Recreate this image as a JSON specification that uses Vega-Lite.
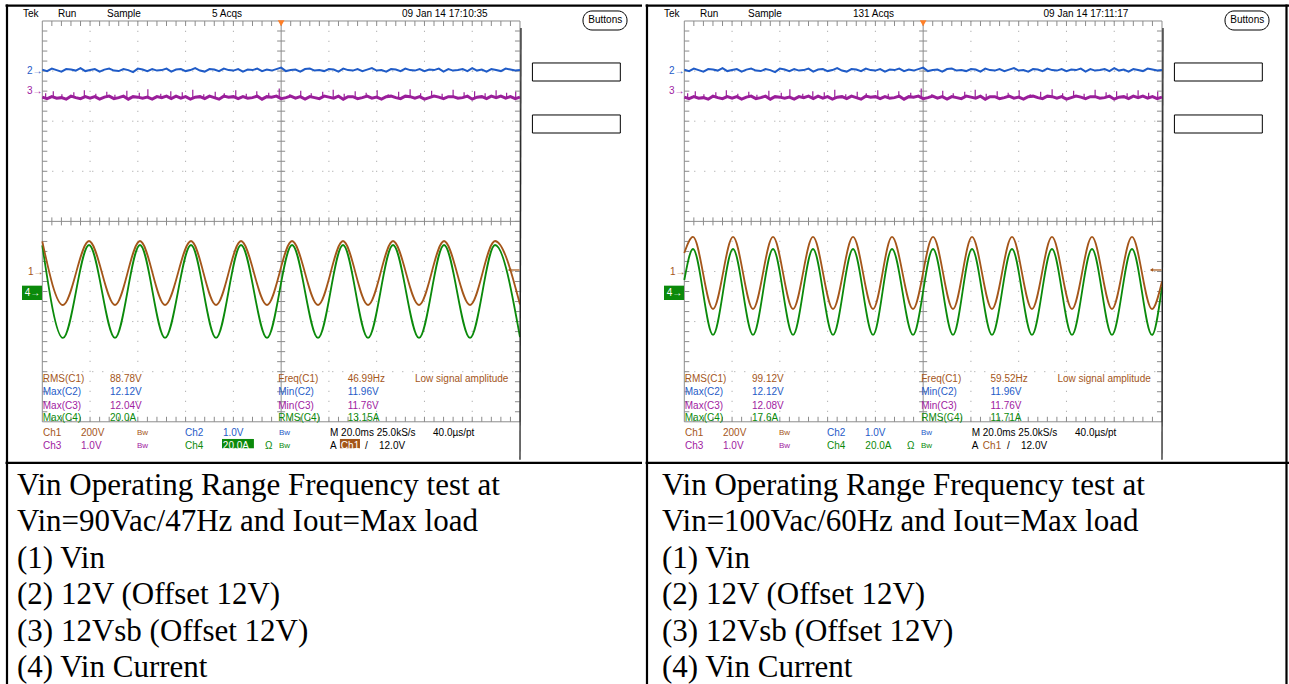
{
"$schema": "https://vega.github.io/schema/vega-lite/v6.json",
"background": "white",
"padding": 0,
"spacing": 0,
"bounds": "flush",
"config": {"view": {"stroke": null}, "concat": {"spacing": 0}},
"resolve": {"scale": {"x": "independent", "y": "independent", "color": "independent"}},
"datasets": {
"dots": [
{"x":1,"x2":1,"y":-4,"y2":4},{"x":2,"x2":2,"y":-4,"y2":4},{"x":3,"x2":3,"y":-4,"y2":4},{"x":4,"x2":4,"y":-4,"y2":4},
{"x":6,"x2":6,"y":-4,"y2":4},{"x":7,"x2":7,"y":-4,"y2":4},{"x":8,"x2":8,"y":-4,"y2":4},{"x":9,"x2":9,"y":-4,"y2":4},
{"x":0,"x2":10,"y":-3,"y2":-3},{"x":0,"x2":10,"y":-2,"y2":-2},{"x":0,"x2":10,"y":-1,"y2":-1},
{"x":0,"x2":10,"y":1,"y2":1},{"x":0,"x2":10,"y":2,"y2":2},{"x":0,"x2":10,"y":3,"y2":3}],
"frame": [
{"x":0,"x2":10,"y":-4,"y2":-4},{"x":0,"x2":10,"y":4,"y2":4},{"x":0,"x2":0,"y":-4,"y2":4},
{"x":10,"x2":10,"y":-4,"y2":4},{"x":5,"x2":5,"y":-4,"y2":4},{"x":0,"x2":10,"y":0,"y2":0}],
"tx": [
{"x":0.2,"t":4,"t2":3.9,"b":-4,"b2":-3.9,"m":-0.08,"m2":0.08},{"x":0.4,"t":4,"t2":3.9,"b":-4,"b2":-3.9,"m":-0.08,"m2":0.08},{"x":0.6,"t":4,"t2":3.9,"b":-4,"b2":-3.9,"m":-0.08,"m2":0.08},{"x":0.8,"t":4,"t2":3.9,"b":-4,"b2":-3.9,"m":-0.08,"m2":0.08},{"x":1,"t":4,"t2":3.9,"b":-4,"b2":-3.9,"m":-0.08,"m2":0.08},
{"x":1.2,"t":4,"t2":3.9,"b":-4,"b2":-3.9,"m":-0.08,"m2":0.08},{"x":1.4,"t":4,"t2":3.9,"b":-4,"b2":-3.9,"m":-0.08,"m2":0.08},{"x":1.6,"t":4,"t2":3.9,"b":-4,"b2":-3.9,"m":-0.08,"m2":0.08},{"x":1.8,"t":4,"t2":3.9,"b":-4,"b2":-3.9,"m":-0.08,"m2":0.08},{"x":2,"t":4,"t2":3.9,"b":-4,"b2":-3.9,"m":-0.08,"m2":0.08},
{"x":2.2,"t":4,"t2":3.9,"b":-4,"b2":-3.9,"m":-0.08,"m2":0.08},{"x":2.4,"t":4,"t2":3.9,"b":-4,"b2":-3.9,"m":-0.08,"m2":0.08},{"x":2.6,"t":4,"t2":3.9,"b":-4,"b2":-3.9,"m":-0.08,"m2":0.08},{"x":2.8,"t":4,"t2":3.9,"b":-4,"b2":-3.9,"m":-0.08,"m2":0.08},{"x":3,"t":4,"t2":3.9,"b":-4,"b2":-3.9,"m":-0.08,"m2":0.08},
{"x":3.2,"t":4,"t2":3.9,"b":-4,"b2":-3.9,"m":-0.08,"m2":0.08},{"x":3.4,"t":4,"t2":3.9,"b":-4,"b2":-3.9,"m":-0.08,"m2":0.08},{"x":3.6,"t":4,"t2":3.9,"b":-4,"b2":-3.9,"m":-0.08,"m2":0.08},{"x":3.8,"t":4,"t2":3.9,"b":-4,"b2":-3.9,"m":-0.08,"m2":0.08},{"x":4,"t":4,"t2":3.9,"b":-4,"b2":-3.9,"m":-0.08,"m2":0.08},
{"x":4.2,"t":4,"t2":3.9,"b":-4,"b2":-3.9,"m":-0.08,"m2":0.08},{"x":4.4,"t":4,"t2":3.9,"b":-4,"b2":-3.9,"m":-0.08,"m2":0.08},{"x":4.6,"t":4,"t2":3.9,"b":-4,"b2":-3.9,"m":-0.08,"m2":0.08},{"x":4.8,"t":4,"t2":3.9,"b":-4,"b2":-3.9,"m":-0.08,"m2":0.08},{"x":5,"t":4,"t2":3.9,"b":-4,"b2":-3.9,"m":-0.08,"m2":0.08},
{"x":5.2,"t":4,"t2":3.9,"b":-4,"b2":-3.9,"m":-0.08,"m2":0.08},{"x":5.4,"t":4,"t2":3.9,"b":-4,"b2":-3.9,"m":-0.08,"m2":0.08},{"x":5.6,"t":4,"t2":3.9,"b":-4,"b2":-3.9,"m":-0.08,"m2":0.08},{"x":5.8,"t":4,"t2":3.9,"b":-4,"b2":-3.9,"m":-0.08,"m2":0.08},{"x":6,"t":4,"t2":3.9,"b":-4,"b2":-3.9,"m":-0.08,"m2":0.08},
{"x":6.2,"t":4,"t2":3.9,"b":-4,"b2":-3.9,"m":-0.08,"m2":0.08},{"x":6.4,"t":4,"t2":3.9,"b":-4,"b2":-3.9,"m":-0.08,"m2":0.08},{"x":6.6,"t":4,"t2":3.9,"b":-4,"b2":-3.9,"m":-0.08,"m2":0.08},{"x":6.8,"t":4,"t2":3.9,"b":-4,"b2":-3.9,"m":-0.08,"m2":0.08},{"x":7,"t":4,"t2":3.9,"b":-4,"b2":-3.9,"m":-0.08,"m2":0.08},
{"x":7.2,"t":4,"t2":3.9,"b":-4,"b2":-3.9,"m":-0.08,"m2":0.08},{"x":7.4,"t":4,"t2":3.9,"b":-4,"b2":-3.9,"m":-0.08,"m2":0.08},{"x":7.6,"t":4,"t2":3.9,"b":-4,"b2":-3.9,"m":-0.08,"m2":0.08},{"x":7.8,"t":4,"t2":3.9,"b":-4,"b2":-3.9,"m":-0.08,"m2":0.08},{"x":8,"t":4,"t2":3.9,"b":-4,"b2":-3.9,"m":-0.08,"m2":0.08},
{"x":8.2,"t":4,"t2":3.9,"b":-4,"b2":-3.9,"m":-0.08,"m2":0.08},{"x":8.4,"t":4,"t2":3.9,"b":-4,"b2":-3.9,"m":-0.08,"m2":0.08},{"x":8.6,"t":4,"t2":3.9,"b":-4,"b2":-3.9,"m":-0.08,"m2":0.08},{"x":8.8,"t":4,"t2":3.9,"b":-4,"b2":-3.9,"m":-0.08,"m2":0.08},{"x":9,"t":4,"t2":3.9,"b":-4,"b2":-3.9,"m":-0.08,"m2":0.08},
{"x":9.2,"t":4,"t2":3.9,"b":-4,"b2":-3.9,"m":-0.08,"m2":0.08},{"x":9.4,"t":4,"t2":3.9,"b":-4,"b2":-3.9,"m":-0.08,"m2":0.08},{"x":9.6,"t":4,"t2":3.9,"b":-4,"b2":-3.9,"m":-0.08,"m2":0.08},{"x":9.8,"t":4,"t2":3.9,"b":-4,"b2":-3.9,"m":-0.08,"m2":0.08}],
"ty": [
{"y":-3.8,"l":0,"l2":0.105,"r":10,"r2":9.895,"c":4.916,"c2":5.084},{"y":-3.6,"l":0,"l2":0.105,"r":10,"r2":9.895,"c":4.916,"c2":5.084},{"y":-3.4,"l":0,"l2":0.105,"r":10,"r2":9.895,"c":4.916,"c2":5.084},{"y":-3.2,"l":0,"l2":0.105,"r":10,"r2":9.895,"c":4.916,"c2":5.084},{"y":-3,"l":0,"l2":0.105,"r":10,"r2":9.895,"c":4.916,"c2":5.084},
{"y":-2.8,"l":0,"l2":0.105,"r":10,"r2":9.895,"c":4.916,"c2":5.084},{"y":-2.6,"l":0,"l2":0.105,"r":10,"r2":9.895,"c":4.916,"c2":5.084},{"y":-2.4,"l":0,"l2":0.105,"r":10,"r2":9.895,"c":4.916,"c2":5.084},{"y":-2.2,"l":0,"l2":0.105,"r":10,"r2":9.895,"c":4.916,"c2":5.084},{"y":-2,"l":0,"l2":0.105,"r":10,"r2":9.895,"c":4.916,"c2":5.084},
{"y":-1.8,"l":0,"l2":0.105,"r":10,"r2":9.895,"c":4.916,"c2":5.084},{"y":-1.6,"l":0,"l2":0.105,"r":10,"r2":9.895,"c":4.916,"c2":5.084},{"y":-1.4,"l":0,"l2":0.105,"r":10,"r2":9.895,"c":4.916,"c2":5.084},{"y":-1.2,"l":0,"l2":0.105,"r":10,"r2":9.895,"c":4.916,"c2":5.084},{"y":-1,"l":0,"l2":0.105,"r":10,"r2":9.895,"c":4.916,"c2":5.084},
{"y":-0.8,"l":0,"l2":0.105,"r":10,"r2":9.895,"c":4.916,"c2":5.084},{"y":-0.6,"l":0,"l2":0.105,"r":10,"r2":9.895,"c":4.916,"c2":5.084},{"y":-0.4,"l":0,"l2":0.105,"r":10,"r2":9.895,"c":4.916,"c2":5.084},{"y":-0.2,"l":0,"l2":0.105,"r":10,"r2":9.895,"c":4.916,"c2":5.084},{"y":0,"l":0,"l2":0.105,"r":10,"r2":9.895,"c":4.916,"c2":5.084},
{"y":0.2,"l":0,"l2":0.105,"r":10,"r2":9.895,"c":4.916,"c2":5.084},{"y":0.4,"l":0,"l2":0.105,"r":10,"r2":9.895,"c":4.916,"c2":5.084},{"y":0.6,"l":0,"l2":0.105,"r":10,"r2":9.895,"c":4.916,"c2":5.084},{"y":0.8,"l":0,"l2":0.105,"r":10,"r2":9.895,"c":4.916,"c2":5.084},{"y":1,"l":0,"l2":0.105,"r":10,"r2":9.895,"c":4.916,"c2":5.084},
{"y":1.2,"l":0,"l2":0.105,"r":10,"r2":9.895,"c":4.916,"c2":5.084},{"y":1.4,"l":0,"l2":0.105,"r":10,"r2":9.895,"c":4.916,"c2":5.084},{"y":1.6,"l":0,"l2":0.105,"r":10,"r2":9.895,"c":4.916,"c2":5.084},{"y":1.8,"l":0,"l2":0.105,"r":10,"r2":9.895,"c":4.916,"c2":5.084},{"y":2,"l":0,"l2":0.105,"r":10,"r2":9.895,"c":4.916,"c2":5.084},
{"y":2.2,"l":0,"l2":0.105,"r":10,"r2":9.895,"c":4.916,"c2":5.084},{"y":2.4,"l":0,"l2":0.105,"r":10,"r2":9.895,"c":4.916,"c2":5.084},{"y":2.6,"l":0,"l2":0.105,"r":10,"r2":9.895,"c":4.916,"c2":5.084},{"y":2.8,"l":0,"l2":0.105,"r":10,"r2":9.895,"c":4.916,"c2":5.084},{"y":3,"l":0,"l2":0.105,"r":10,"r2":9.895,"c":4.916,"c2":5.084},
{"y":3.2,"l":0,"l2":0.105,"r":10,"r2":9.895,"c":4.916,"c2":5.084},{"y":3.4,"l":0,"l2":0.105,"r":10,"r2":9.895,"c":4.916,"c2":5.084},{"y":3.6,"l":0,"l2":0.105,"r":10,"r2":9.895,"c":4.916,"c2":5.084},{"y":3.8,"l":0,"l2":0.105,"r":10,"r2":9.895,"c":4.916,"c2":5.084}],
"n2": [
{"x":0,"y":3.03},{"x":0.1,"y":3.00},{"x":0.2,"y":3.05},{"x":0.3,"y":3.02},{"x":0.4,"y":2.99},{"x":0.5,"y":3.04},{"x":0.6,"y":3.03},{"x":0.7,"y":3.01},{"x":0.8,"y":3.06},{"x":0.9,"y":3.00},
{"x":1.0,"y":3.02},{"x":1.1,"y":3.04},{"x":1.2,"y":2.99},{"x":1.3,"y":3.03},{"x":1.4,"y":3.05},{"x":1.5,"y":3.01},{"x":1.6,"y":3.00},{"x":1.7,"y":3.04},{"x":1.8,"y":3.02},{"x":1.9,"y":2.98},
{"x":2.0,"y":3.05},{"x":2.1,"y":3.03},{"x":2.2,"y":3.00},{"x":2.3,"y":3.04},{"x":2.4,"y":3.01},{"x":2.5,"y":3.02},{"x":2.6,"y":3.05},{"x":2.7,"y":2.99},{"x":2.8,"y":3.03},{"x":2.9,"y":3.04},
{"x":3.0,"y":3.00},{"x":3.1,"y":3.02},{"x":3.2,"y":3.06},{"x":3.3,"y":3.01},{"x":3.4,"y":2.99},{"x":3.5,"y":3.04},{"x":3.6,"y":3.03},{"x":3.7,"y":3.00},{"x":3.8,"y":3.05},{"x":3.9,"y":3.02},
{"x":4.0,"y":3.01},{"x":4.1,"y":3.04},{"x":4.2,"y":2.99},{"x":4.3,"y":3.03},{"x":4.4,"y":3.02},{"x":4.5,"y":3.05},{"x":4.6,"y":3.00},{"x":4.7,"y":3.03},{"x":4.8,"y":3.01},{"x":4.9,"y":3.04},
{"x":5.0,"y":3.07},{"x":5.1,"y":3.00},{"x":5.2,"y":3.02},{"x":5.3,"y":3.03},{"x":5.4,"y":2.99},{"x":5.5,"y":3.04},{"x":5.6,"y":3.05},{"x":5.7,"y":3.01},{"x":5.8,"y":3.02},{"x":5.9,"y":3.00},
{"x":6.0,"y":3.04},{"x":6.1,"y":3.03},{"x":6.2,"y":2.99},{"x":6.3,"y":3.05},{"x":6.4,"y":3.02},{"x":6.5,"y":3.01},{"x":6.6,"y":3.04},{"x":6.7,"y":3.00},{"x":6.8,"y":3.03},{"x":6.9,"y":3.06},
{"x":7.0,"y":3.01},{"x":7.1,"y":3.02},{"x":7.2,"y":2.99},{"x":7.3,"y":3.04},{"x":7.4,"y":3.03},{"x":7.5,"y":3.00},{"x":7.6,"y":3.05},{"x":7.7,"y":3.02},{"x":7.8,"y":3.01},{"x":7.9,"y":3.04},
{"x":8.0,"y":3.00},{"x":8.1,"y":3.03},{"x":8.2,"y":3.02},{"x":8.3,"y":3.05},{"x":8.4,"y":2.99},{"x":8.5,"y":3.04},{"x":8.6,"y":3.01},{"x":8.7,"y":3.02},{"x":8.8,"y":3.04},{"x":8.9,"y":3.00},
{"x":9.0,"y":3.06},{"x":9.1,"y":3.01},{"x":9.2,"y":3.03},{"x":9.3,"y":2.99},{"x":9.4,"y":3.04},{"x":9.5,"y":3.02},{"x":9.6,"y":3.00},{"x":9.7,"y":3.05},{"x":9.8,"y":3.03},{"x":9.9,"y":3.01},
{"x":10,"y":3.02}],
"n3": [
{"x":0,"y":2.48},{"x":0.1,"y":2.45},{"x":0.2,"y":2.49},{"x":0.3,"y":2.46},{"x":0.4,"y":2.47},{"x":0.5,"y":2.44},{"x":0.6,"y":2.50},{"x":0.7,"y":2.47},{"x":0.8,"y":2.45},{"x":0.9,"y":2.49},
{"x":1.0,"y":2.46},{"x":1.1,"y":2.49},{"x":1.2,"y":2.44},{"x":1.3,"y":2.48},{"x":1.4,"y":2.50},{"x":1.5,"y":2.45},{"x":1.6,"y":2.47},{"x":1.7,"y":2.50},{"x":1.8,"y":2.44},{"x":1.9,"y":2.49},
{"x":2.0,"y":2.48},{"x":2.1,"y":2.46},{"x":2.2,"y":2.48},{"x":2.3,"y":2.44},{"x":2.4,"y":2.49},{"x":2.5,"y":2.47},{"x":2.6,"y":2.50},{"x":2.7,"y":2.45},{"x":2.8,"y":2.50},{"x":2.9,"y":2.46},
{"x":3.0,"y":2.49},{"x":3.1,"y":2.44},{"x":3.2,"y":2.48},{"x":3.3,"y":2.49},{"x":3.4,"y":2.45},{"x":3.5,"y":2.50},{"x":3.6,"y":2.47},{"x":3.7,"y":2.44},{"x":3.8,"y":2.50},{"x":3.9,"y":2.48},
{"x":4.0,"y":2.49},{"x":4.1,"y":2.45},{"x":4.2,"y":2.49},{"x":4.3,"y":2.46},{"x":4.4,"y":2.47},{"x":4.5,"y":2.50},{"x":4.6,"y":2.44},{"x":4.7,"y":2.49},{"x":4.8,"y":2.48},{"x":4.9,"y":2.50},
{"x":5.0,"y":2.45},{"x":5.1,"y":2.47},{"x":5.2,"y":2.50},{"x":5.3,"y":2.46},{"x":5.4,"y":2.49},{"x":5.5,"y":2.44},{"x":5.6,"y":2.49},{"x":5.7,"y":2.47},{"x":5.8,"y":2.45},{"x":5.9,"y":2.50},
{"x":6.0,"y":2.48},{"x":6.1,"y":2.46},{"x":6.2,"y":2.50},{"x":6.3,"y":2.44},{"x":6.4,"y":2.49},{"x":6.5,"y":2.49},{"x":6.6,"y":2.45},{"x":6.7,"y":2.47},{"x":6.8,"y":2.50},{"x":6.9,"y":2.46},
{"x":7.0,"y":2.48},{"x":7.1,"y":2.44},{"x":7.2,"y":2.49},{"x":7.3,"y":2.50},{"x":7.4,"y":2.47},{"x":7.5,"y":2.45},{"x":7.6,"y":2.50},{"x":7.7,"y":2.49},{"x":7.8,"y":2.46},{"x":7.9,"y":2.49},
{"x":8.0,"y":2.44},{"x":8.1,"y":2.47},{"x":8.2,"y":2.50},{"x":8.3,"y":2.48},{"x":8.4,"y":2.45},{"x":8.5,"y":2.49},{"x":8.6,"y":2.49},{"x":8.7,"y":2.46},{"x":8.8,"y":2.47},{"x":8.9,"y":2.50},
{"x":9.0,"y":2.44},{"x":9.1,"y":2.48},{"x":9.2,"y":2.49},{"x":9.3,"y":2.45},{"x":9.4,"y":2.50},{"x":9.5,"y":2.47},{"x":9.6,"y":2.50},{"x":9.7,"y":2.46},{"x":9.8,"y":2.49},{"x":9.9,"y":2.45},
{"x":10,"y":2.48}],
"n3s": [
{"x":0.07,"y":2.47,"y2":2.56},{"x":0.23,"y":2.47,"y2":2.60},{"x":0.41,"y":2.47,"y2":2.54},{"x":0.66,"y":2.47,"y2":2.58},{"x":0.88,"y":2.47,"y2":2.62},
{"x":1.12,"y":2.47,"y2":2.55},{"x":1.35,"y":2.47,"y2":2.59},{"x":1.52,"y":2.47,"y2":2.53},{"x":1.77,"y":2.47,"y2":2.61},{"x":2.03,"y":2.47,"y2":2.57},
{"x":2.21,"y":2.47,"y2":2.64},{"x":2.48,"y":2.47,"y2":2.55},{"x":2.69,"y":2.47,"y2":2.60},{"x":2.93,"y":2.47,"y2":2.58},{"x":3.15,"y":2.47,"y2":2.63},
{"x":3.38,"y":2.47,"y2":2.54},{"x":3.62,"y":2.47,"y2":2.59},{"x":3.81,"y":2.47,"y2":2.56},{"x":4.05,"y":2.47,"y2":2.62},{"x":4.27,"y":2.47,"y2":2.55},
{"x":4.49,"y":2.47,"y2":2.60},{"x":4.74,"y":2.47,"y2":2.57},{"x":4.96,"y":2.47,"y2":2.65},{"x":5.18,"y":2.47,"y2":2.54},{"x":5.41,"y":2.47,"y2":2.61},
{"x":5.63,"y":2.47,"y2":2.56},{"x":5.87,"y":2.47,"y2":2.59},{"x":6.09,"y":2.47,"y2":2.63},{"x":6.32,"y":2.47,"y2":2.55},{"x":6.55,"y":2.47,"y2":2.60},
{"x":6.78,"y":2.47,"y2":2.57},{"x":7.01,"y":2.47,"y2":2.62},{"x":7.24,"y":2.47,"y2":2.54},{"x":7.46,"y":2.47,"y2":2.59},{"x":7.70,"y":2.47,"y2":2.64},
{"x":7.92,"y":2.47,"y2":2.56},{"x":8.15,"y":2.47,"y2":2.61},{"x":8.37,"y":2.47,"y2":2.55},{"x":8.60,"y":2.47,"y2":2.63},{"x":8.83,"y":2.47,"y2":2.58},
{"x":9.05,"y":2.47,"y2":2.60},{"x":9.27,"y":2.47,"y2":2.56},{"x":9.50,"y":2.47,"y2":2.62},{"x":9.72,"y":2.47,"y2":2.57},{"x":9.91,"y":2.47,"y2":2.59}],
"edge": [{"x":10,"x2":10,"y":3.86,"y2":-4.76}],
"rects": [{"x":10.26,"x2":12.10,"y":3.162,"y2":2.802},{"x":10.26,"x2":12.10,"y":2.124,"y2":1.764}],
"btn": [{"x":11.319,"x2":12.24,"y":4.2,"y2":3.82}],
"trig": [{"x":5,"y":3.955}],
"trl": [{"x":9.78,"x2":9.99,"y":-0.97}],
"bw": [{"x":1.982,"y":-4.23,"t":"Bw","ch":"c1"},{"x":4.954,"y":-4.23,"t":"Bw","ch":"c2"},{"x":1.982,"y":-4.477,"t":"Bw","ch":"c3"},{"x":4.954,"y":-4.477,"t":"Bw","ch":"c4"}],
"Lbord": [{"x":-0.739,"x2":-0.739,"y":4.33,"y2":-9.234},{"x":-0.77,"x2":12.554,"y":4.305,"y2":4.305},{"x":-0.77,"x2":12.554,"y":-4.822,"y2":-4.822}],
"Rbord": [{"x":-0.781,"x2":-0.781,"y":4.33,"y2":-9.234},{"x":-0.81,"x2":12.6586,"y":4.305,"y2":4.305},{"x":-0.81,"x2":12.6586,"y":-4.822,"y2":-4.822},{"x":12.606,"x2":12.606,"y":4.33,"y2":-9.234}],
"Lc1": [{"x":0,"y":-0.40},{"x":0.433,"y":-1.669},{"x":0.978,"y":-0.391},{"x":1.522,"y":-1.669},{"x":2.045,"y":-0.391},{"x":2.569,"y":-1.669},{"x":3.113,"y":-0.391},{"x":3.637,"y":-1.669},{"x":4.160,"y":-0.391},{"x":4.704,"y":-1.669},{"x":5.228,"y":-0.391},{"x":5.772,"y":-1.669},{"x":6.295,"y":-0.391},{"x":6.819,"y":-1.669},{"x":7.342,"y":-0.391},{"x":7.886,"y":-1.669},{"x":8.410,"y":-0.391},{"x":8.954,"y":-1.669},{"x":9.477,"y":-0.391},{"x":10,"y":-1.66}],
"Lc4": [{"x":0,"y":-0.48},{"x":0.433,"y":-2.327},{"x":0.978,"y":-0.471},{"x":1.522,"y":-2.327},{"x":2.045,"y":-0.471},{"x":2.569,"y":-2.327},{"x":3.113,"y":-0.471},{"x":3.637,"y":-2.327},{"x":4.160,"y":-0.471},{"x":4.704,"y":-2.327},{"x":5.228,"y":-0.471},{"x":5.772,"y":-2.327},{"x":6.295,"y":-0.471},{"x":6.819,"y":-2.327},{"x":7.342,"y":-0.471},{"x":7.886,"y":-2.327},{"x":8.410,"y":-0.471},{"x":8.954,"y":-2.327},{"x":9.477,"y":-0.471},{"x":10,"y":-2.31}],
"Rc1": [{"x":0,"y":-0.631},{"x":0.182,"y":-0.311},{"x":0.601,"y":-1.749},{"x":1.020,"y":-0.311},{"x":1.438,"y":-1.749},{"x":1.857,"y":-0.311},{"x":2.276,"y":-1.749},{"x":2.694,"y":-0.311},{"x":3.113,"y":-1.749},{"x":3.532,"y":-0.311},{"x":3.951,"y":-1.749},{"x":4.348,"y":-0.311},{"x":4.788,"y":-1.749},{"x":5.207,"y":-0.311},{"x":5.625,"y":-1.749},{"x":6.023,"y":-0.311},{"x":6.441,"y":-1.749},{"x":6.860,"y":-0.311},{"x":7.278,"y":-1.749},{"x":7.697,"y":-0.311},{"x":8.116,"y":-1.749},{"x":8.535,"y":-0.311},{"x":8.953,"y":-1.749},{"x":9.372,"y":-0.311},{"x":9.790,"y":-1.749},{"x":10,"y":-1.20}],
"Rc4": [{"x":0,"y":-1.17},{"x":0.182,"y":-0.551},{"x":0.601,"y":-2.267},{"x":1.020,"y":-0.551},{"x":1.438,"y":-2.267},{"x":1.857,"y":-0.551},{"x":2.276,"y":-2.267},{"x":2.694,"y":-0.551},{"x":3.113,"y":-2.267},{"x":3.532,"y":-0.551},{"x":3.951,"y":-2.267},{"x":4.348,"y":-0.551},{"x":4.788,"y":-2.267},{"x":5.207,"y":-0.551},{"x":5.625,"y":-2.267},{"x":6.023,"y":-0.551},{"x":6.441,"y":-2.267},{"x":6.860,"y":-0.551},{"x":7.278,"y":-2.267},{"x":7.697,"y":-0.551},{"x":8.116,"y":-2.267},{"x":8.535,"y":-0.551},{"x":8.953,"y":-2.267},{"x":9.372,"y":-0.551},{"x":9.790,"y":-2.267},{"x":10,"y":-1.30}],
"Lbox": [{"x":-0.425,"x2":-0.006,"y":-1.283,"y2":-1.569,"ch":"c4"},{"x":3.762,"x2":4.43,"y":-4.343,"y2":-4.529,"ch":"c4"},{"x":6.23,"x2":6.65,"y":-4.343,"y2":-4.529,"ch":"c1"}],
"Rbox": [{"x":-0.425,"x2":-0.006,"y":-1.283,"y2":-1.569,"ch":"c4"}],
"Ltxt": [
{"x":-0.404,"y":4.145,"t":"Tek","ch":"k"},{"x":0.329,"y":4.145,"t":"Run","ch":"k"},{"x":1.354,"y":4.145,"t":"Sample","ch":"k"},{"x":3.553,"y":4.145,"t":"5 Acqs","ch":"k"},{"x":7.53,"y":4.145,"t":"09 Jan 14 17:10:35","ch":"k"},
{"x":11.43,"y":4.02,"t":"Buttons","ch":"k"},
{"x":-0.32,"y":3.008,"t":"2→","ch":"c2"},{"x":-0.32,"y":2.609,"t":"3→","ch":"c3"},{"x":-0.30,"y":-1.016,"t":"1→","ch":"c1"},{"x":-0.37,"y":-1.429,"t":"4→","ch":"w"},
{"x":0.01,"y":-3.156,"t":"RMS(C1)","ch":"c1"},{"x":1.417,"y":-3.156,"t":"88.78V","ch":"c1"},{"x":4.94,"y":-3.156,"t":"Freq(C1)","ch":"c1"},{"x":6.393,"y":-3.156,"t":"46.99Hz","ch":"c1"},{"x":7.802,"y":-3.156,"t":"Low signal amplitude","ch":"c1"},
{"x":0.01,"y":-3.415,"t":"Max(C2)","ch":"c2"},{"x":1.417,"y":-3.415,"t":"12.12V","ch":"c2"},{"x":4.94,"y":-3.415,"t":"Min(C2)","ch":"c2"},{"x":6.393,"y":-3.415,"t":"11.96V","ch":"c2"},
{"x":0.01,"y":-3.675,"t":"Max(C3)","ch":"c3"},{"x":1.417,"y":-3.675,"t":"12.04V","ch":"c3"},{"x":4.94,"y":-3.675,"t":"Min(C3)","ch":"c3"},{"x":6.393,"y":-3.675,"t":"11.76V","ch":"c3"},
{"x":0.01,"y":-3.934,"t":"Max(C4)","ch":"c4"},{"x":1.417,"y":-3.934,"t":"20.0A","ch":"c4"},{"x":4.94,"y":-3.934,"t":"RMS(C4)","ch":"c4"},{"x":6.393,"y":-3.934,"t":"13.15A","ch":"c4"},
{"x":0.015,"y":-4.23,"t":"Ch1","ch":"c1"},{"x":0.81,"y":-4.23,"t":"200V","ch":"c1"},{"x":2.987,"y":-4.23,"t":"Ch2","ch":"c2"},{"x":3.782,"y":-4.23,"t":"1.0V","ch":"c2"},{"x":6.023,"y":-4.23,"t":"M 20.0ms 25.0kS/s","ch":"k"},{"x":8.179,"y":-4.23,"t":"40.0µs/pt","ch":"k"},
{"x":0.015,"y":-4.477,"t":"Ch3","ch":"c3"},{"x":0.81,"y":-4.477,"t":"1.0V","ch":"c3"},{"x":2.987,"y":-4.477,"t":"Ch4","ch":"c4"},{"x":3.78,"y":-4.477,"t":"20.0A","ch":"w"},{"x":4.662,"y":-4.477,"t":"Ω","ch":"c4"},{"x":6.023,"y":-4.477,"t":"A","ch":"k"},{"x":6.25,"y":-4.477,"t":"Ch1","ch":"w"},{"x":6.756,"y":-4.477,"t":"/","ch":"k"},{"x":7.048,"y":-4.477,"t":"12.0V","ch":"k"}],
"Rtxt": [
{"x":-0.425,"y":4.145,"t":"Tek","ch":"k"},{"x":0.329,"y":4.145,"t":"Run","ch":"k"},{"x":1.333,"y":4.145,"t":"Sample","ch":"k"},{"x":3.53,"y":4.145,"t":"131 Acqs","ch":"k"},{"x":7.52,"y":4.145,"t":"09 Jan 14 17:11:17","ch":"k"},
{"x":11.43,"y":4.02,"t":"Buttons","ch":"k"},
{"x":-0.32,"y":3.008,"t":"2→","ch":"c2"},{"x":-0.32,"y":2.609,"t":"3→","ch":"c3"},{"x":-0.30,"y":-1.016,"t":"1→","ch":"c1"},{"x":-0.37,"y":-1.429,"t":"4→","ch":"w"},
{"x":0.01,"y":-3.156,"t":"RMS(C1)","ch":"c1"},{"x":1.417,"y":-3.156,"t":"99.12V","ch":"c1"},{"x":4.96,"y":-3.156,"t":"Freq(C1)","ch":"c1"},{"x":6.41,"y":-3.156,"t":"59.52Hz","ch":"c1"},{"x":7.81,"y":-3.156,"t":"Low signal amplitude","ch":"c1"},
{"x":0.01,"y":-3.415,"t":"Max(C2)","ch":"c2"},{"x":1.417,"y":-3.415,"t":"12.12V","ch":"c2"},{"x":4.96,"y":-3.415,"t":"Min(C2)","ch":"c2"},{"x":6.41,"y":-3.415,"t":"11.96V","ch":"c2"},
{"x":0.01,"y":-3.675,"t":"Max(C3)","ch":"c3"},{"x":1.417,"y":-3.675,"t":"12.08V","ch":"c3"},{"x":4.96,"y":-3.675,"t":"Min(C3)","ch":"c3"},{"x":6.41,"y":-3.675,"t":"11.76V","ch":"c3"},
{"x":0.01,"y":-3.934,"t":"Max(C4)","ch":"c4"},{"x":1.417,"y":-3.934,"t":"17.6A","ch":"c4"},{"x":4.96,"y":-3.934,"t":"RMS(C4)","ch":"c4"},{"x":6.41,"y":-3.934,"t":"11.71A","ch":"c4"},
{"x":0.015,"y":-4.23,"t":"Ch1","ch":"c1"},{"x":0.81,"y":-4.23,"t":"200V","ch":"c1"},{"x":2.987,"y":-4.23,"t":"Ch2","ch":"c2"},{"x":3.782,"y":-4.23,"t":"1.0V","ch":"c2"},{"x":6.016,"y":-4.23,"t":"M 20.0ms 25.0kS/s","ch":"k"},{"x":8.179,"y":-4.23,"t":"40.0µs/pt","ch":"k"},
{"x":0.015,"y":-4.477,"t":"Ch3","ch":"c3"},{"x":0.81,"y":-4.477,"t":"1.0V","ch":"c3"},{"x":2.987,"y":-4.477,"t":"Ch4","ch":"c4"},{"x":3.79,"y":-4.477,"t":"20.0A","ch":"c4"},{"x":4.662,"y":-4.477,"t":"Ω","ch":"c4"},{"x":6.016,"y":-4.477,"t":"A","ch":"k"},{"x":6.25,"y":-4.477,"t":"Ch1","ch":"c1"},{"x":6.756,"y":-4.477,"t":"/","ch":"k"},{"x":7.048,"y":-4.477,"t":"12.0V","ch":"k"}],
"Ltab": [
{"x":-0.53,"y":-5.461,"t":"Vin Operating Range Frequency test at"},
{"x":-0.53,"y":-6.188,"t":"Vin=90Vac/47Hz and Iout=Max load"},
{"x":-0.53,"y":-6.914,"t":"(1) Vin"},
{"x":-0.53,"y":-7.641,"t":"(2) 12V (Offset 12V)"},
{"x":-0.53,"y":-8.367,"t":"(3) 12Vsb (Offset 12V)"},
{"x":-0.53,"y":-9.094,"t":"(4) Vin Current"}],
"Rtab": [
{"x":-0.467,"y":-5.461,"t":"Vin Operating Range Frequency test at"},
{"x":-0.467,"y":-6.188,"t":"Vin=100Vac/60Hz and Iout=Max load"},
{"x":-0.467,"y":-6.914,"t":"(1) Vin"},
{"x":-0.467,"y":-7.641,"t":"(2) 12V (Offset 12V)"},
{"x":-0.467,"y":-8.367,"t":"(3) 12Vsb (Offset 12V)"},
{"x":-0.467,"y":-9.094,"t":"(4) Vin Current"}]
},
"hconcat": [
{
"width": 642, "height": 684,
"encoding": {
"x": {"field":"x","type":"quantitative","scale":{"domain":[-0.8855,12.554],"nice":false,"zero":false},"axis":null},
"y": {"field":"y","type":"quantitative","scale":{"domain":[-9.234,4.419],"nice":false,"zero":false},"axis":null}
},
"layer": [
{"data":{"name":"dots"},"mark":{"type":"rule","stroke":"#9b9b9b","strokeWidth":1,"strokeDash":[1,9]},"encoding":{"x2":{"field":"x2"},"y2":{"field":"y2"}}},
{"data":{"name":"frame"},"mark":{"type":"rule","stroke":"#8c8c8c","strokeWidth":1},"encoding":{"x2":{"field":"x2"},"y2":{"field":"y2"}}},
{"data":{"name":"tx"},"mark":{"type":"rule","stroke":"#8c8c8c","strokeWidth":1},"encoding":{"y":{"field":"t","type":"quantitative"},"y2":{"field":"t2"}}},
{"data":{"name":"tx"},"mark":{"type":"rule","stroke":"#8c8c8c","strokeWidth":1},"encoding":{"y":{"field":"b","type":"quantitative"},"y2":{"field":"b2"}}},
{"data":{"name":"tx"},"mark":{"type":"rule","stroke":"#8c8c8c","strokeWidth":1},"encoding":{"y":{"field":"m","type":"quantitative"},"y2":{"field":"m2"}}},
{"data":{"name":"ty"},"mark":{"type":"rule","stroke":"#8c8c8c","strokeWidth":1},"encoding":{"x":{"field":"l","type":"quantitative"},"x2":{"field":"l2"}}},
{"data":{"name":"ty"},"mark":{"type":"rule","stroke":"#8c8c8c","strokeWidth":1},"encoding":{"x":{"field":"r","type":"quantitative"},"x2":{"field":"r2"}}},
{"data":{"name":"ty"},"mark":{"type":"rule","stroke":"#8c8c8c","strokeWidth":1},"encoding":{"x":{"field":"c","type":"quantitative"},"x2":{"field":"c2"}}},
{"data":{"name":"n2"},"mark":{"type":"line","stroke":"#1F5BC7","strokeWidth":2},"encoding":{}},
{"data":{"name":"n3s"},"mark":{"type":"rule","stroke":"#9A1E9A","strokeWidth":1.2},"encoding":{"y2":{"field":"y2"}}},
{"data":{"name":"n3"},"mark":{"type":"line","stroke":"#9A1E9A","strokeWidth":3},"encoding":{}},
{"data":{"name":"Lc4"},"mark":{"type":"line","stroke":"#0B8A0B","strokeWidth":1.8,"interpolate":"monotone"},"encoding":{}},
{"data":{"name":"Lc1"},"mark":{"type":"line","stroke":"#A4561A","strokeWidth":1.8,"interpolate":"monotone"},"encoding":{}},
{"data":{"name":"edge"},"mark":{"type":"rule","stroke":"#222222","strokeWidth":1.3,"xOffset":1},"encoding":{"x2":{"field":"x2"},"y2":{"field":"y2"}}},
{"data":{"name":"Lbord"},"mark":{"type":"rule","stroke":"black","strokeWidth":2.2},"encoding":{"x2":{"field":"x2"},"y2":{"field":"y2"}}},
{"data":{"name":"rects"},"mark":{"type":"rect","fill":"white","stroke":"black","strokeWidth":1},"encoding":{"x2":{"field":"x2"},"y2":{"field":"y2"}}},
{"data":{"name":"btn"},"mark":{"type":"rect","fill":"white","stroke":"black","strokeWidth":1,"cornerRadius":9},"encoding":{"x2":{"field":"x2"},"y2":{"field":"y2"}}},
{"data":{"name":"Lbox"},"mark":{"type":"rect"},"encoding":{"x2":{"field":"x2"},"y2":{"field":"y2"},"color":{"field":"ch","type":"nominal","scale":{"domain":["c1","c2","c3","c4","k","w"],"range":["#A4561A","#1F5BC7","#A0219F","#0B8A0B","#000000","#FFFFFF"]},"legend":null}}},
{"data":{"name":"Ltxt"},"mark":{"type":"text","align":"left","baseline":"middle","font":"Liberation Sans","fontSize":10},"encoding":{"text":{"field":"t"},"color":{"field":"ch","type":"nominal","scale":{"domain":["c1","c2","c3","c4","k","w"],"range":["#A4561A","#1F5BC7","#A0219F","#0B8A0B","#000000","#FFFFFF"]},"legend":null}}},
{"data":{"name":"bw"},"mark":{"type":"text","align":"left","baseline":"middle","font":"Liberation Sans","fontSize":8},"encoding":{"text":{"field":"t"},"color":{"field":"ch","type":"nominal","scale":{"domain":["c1","c2","c3","c4","k","w"],"range":["#A4561A","#1F5BC7","#A0219F","#0B8A0B","#000000","#FFFFFF"]},"legend":null}}},
{"data":{"name":"Ltab"},"mark":{"type":"text","align":"left","baseline":"alphabetic","font":"Liberation Serif","fontSize":31,"color":"black"},"encoding":{"text":{"field":"t"}}},
{"data":{"name":"trig"},"mark":{"type":"point","shape":"triangle-down","filled":true,"color":"#FF7F27","size":45,"opacity":1},"encoding":{}},
{"data":{"name":"trl"},"mark":{"type":"rule","stroke":"#A4561A","strokeWidth":1.2},"encoding":{"x2":{"field":"x2"}}},
{"data":{"name":"trl"},"mark":{"type":"point","shape":"triangle-left","filled":true,"color":"#A4561A","size":14,"opacity":1},"encoding":{}}
]
},
{
"width": 647, "height": 684,
"encoding": {
"x": {"field":"x","type":"quantitative","scale":{"domain":[-0.8855,12.6586],"nice":false,"zero":false},"axis":null},
"y": {"field":"y","type":"quantitative","scale":{"domain":[-9.234,4.419],"nice":false,"zero":false},"axis":null}
},
"layer": [
{"data":{"name":"dots"},"mark":{"type":"rule","stroke":"#9b9b9b","strokeWidth":1,"strokeDash":[1,9]},"encoding":{"x2":{"field":"x2"},"y2":{"field":"y2"}}},
{"data":{"name":"frame"},"mark":{"type":"rule","stroke":"#8c8c8c","strokeWidth":1},"encoding":{"x2":{"field":"x2"},"y2":{"field":"y2"}}},
{"data":{"name":"tx"},"mark":{"type":"rule","stroke":"#8c8c8c","strokeWidth":1},"encoding":{"y":{"field":"t","type":"quantitative"},"y2":{"field":"t2"}}},
{"data":{"name":"tx"},"mark":{"type":"rule","stroke":"#8c8c8c","strokeWidth":1},"encoding":{"y":{"field":"b","type":"quantitative"},"y2":{"field":"b2"}}},
{"data":{"name":"tx"},"mark":{"type":"rule","stroke":"#8c8c8c","strokeWidth":1},"encoding":{"y":{"field":"m","type":"quantitative"},"y2":{"field":"m2"}}},
{"data":{"name":"ty"},"mark":{"type":"rule","stroke":"#8c8c8c","strokeWidth":1},"encoding":{"x":{"field":"l","type":"quantitative"},"x2":{"field":"l2"}}},
{"data":{"name":"ty"},"mark":{"type":"rule","stroke":"#8c8c8c","strokeWidth":1},"encoding":{"x":{"field":"r","type":"quantitative"},"x2":{"field":"r2"}}},
{"data":{"name":"ty"},"mark":{"type":"rule","stroke":"#8c8c8c","strokeWidth":1},"encoding":{"x":{"field":"c","type":"quantitative"},"x2":{"field":"c2"}}},
{"data":{"name":"n2"},"mark":{"type":"line","stroke":"#1F5BC7","strokeWidth":2},"encoding":{}},
{"data":{"name":"n3s"},"mark":{"type":"rule","stroke":"#9A1E9A","strokeWidth":1.2},"encoding":{"y2":{"field":"y2"}}},
{"data":{"name":"n3"},"mark":{"type":"line","stroke":"#9A1E9A","strokeWidth":3},"encoding":{}},
{"data":{"name":"Rc4"},"mark":{"type":"line","stroke":"#0B8A0B","strokeWidth":1.8,"interpolate":"monotone"},"encoding":{}},
{"data":{"name":"Rc1"},"mark":{"type":"line","stroke":"#A4561A","strokeWidth":1.8,"interpolate":"monotone"},"encoding":{}},
{"data":{"name":"edge"},"mark":{"type":"rule","stroke":"#222222","strokeWidth":1.3,"xOffset":1},"encoding":{"x2":{"field":"x2"},"y2":{"field":"y2"}}},
{"data":{"name":"Rbord"},"mark":{"type":"rule","stroke":"black","strokeWidth":2.2},"encoding":{"x2":{"field":"x2"},"y2":{"field":"y2"}}},
{"data":{"name":"rects"},"mark":{"type":"rect","fill":"white","stroke":"black","strokeWidth":1},"encoding":{"x2":{"field":"x2"},"y2":{"field":"y2"}}},
{"data":{"name":"btn"},"mark":{"type":"rect","fill":"white","stroke":"black","strokeWidth":1,"cornerRadius":9},"encoding":{"x2":{"field":"x2"},"y2":{"field":"y2"}}},
{"data":{"name":"Rbox"},"mark":{"type":"rect"},"encoding":{"x2":{"field":"x2"},"y2":{"field":"y2"},"color":{"field":"ch","type":"nominal","scale":{"domain":["c1","c2","c3","c4","k","w"],"range":["#A4561A","#1F5BC7","#A0219F","#0B8A0B","#000000","#FFFFFF"]},"legend":null}}},
{"data":{"name":"Rtxt"},"mark":{"type":"text","align":"left","baseline":"middle","font":"Liberation Sans","fontSize":10},"encoding":{"text":{"field":"t"},"color":{"field":"ch","type":"nominal","scale":{"domain":["c1","c2","c3","c4","k","w"],"range":["#A4561A","#1F5BC7","#A0219F","#0B8A0B","#000000","#FFFFFF"]},"legend":null}}},
{"data":{"name":"bw"},"mark":{"type":"text","align":"left","baseline":"middle","font":"Liberation Sans","fontSize":8},"encoding":{"text":{"field":"t"},"color":{"field":"ch","type":"nominal","scale":{"domain":["c1","c2","c3","c4","k","w"],"range":["#A4561A","#1F5BC7","#A0219F","#0B8A0B","#000000","#FFFFFF"]},"legend":null}}},
{"data":{"name":"Rtab"},"mark":{"type":"text","align":"left","baseline":"alphabetic","font":"Liberation Serif","fontSize":31,"color":"black"},"encoding":{"text":{"field":"t"}}},
{"data":{"name":"trig"},"mark":{"type":"point","shape":"triangle-down","filled":true,"color":"#FF7F27","size":45,"opacity":1},"encoding":{}},
{"data":{"name":"trl"},"mark":{"type":"rule","stroke":"#A4561A","strokeWidth":1.2},"encoding":{"x2":{"field":"x2"}}},
{"data":{"name":"trl"},"mark":{"type":"point","shape":"triangle-left","filled":true,"color":"#A4561A","size":14,"opacity":1},"encoding":{}}
]
}
]
}
